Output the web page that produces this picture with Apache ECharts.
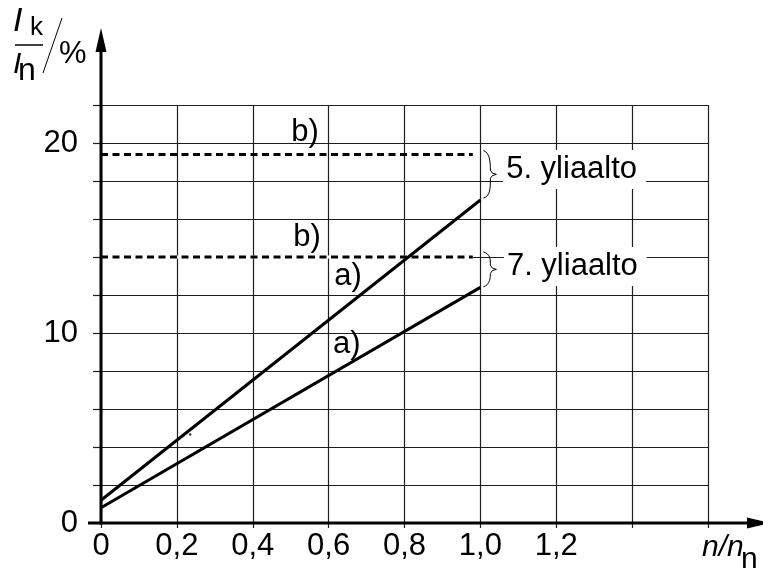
<!DOCTYPE html>
<html>
<head>
<meta charset="utf-8">
<script src="https://cdn.jsdelivr.net/npm/echarts@6/dist/echarts.min.js"></script>
<style>
  html, body { margin: 0; padding: 0; background: #fff; }
  #chart { width: 763px; height: 569px; }
</style>
</head>
<body>
<div id="chart"></div>
<script>
// Harmonic current I_k/I_n (%) against relative speed n/n_n

// tick labels
const speedTickLabels = [0, 0.2, 0.4, 0.6, 0.8, 1.0, 1.2];
const currentTickLabels = [0, 10, 20];

// a) curves: values at n/n_n = 0 and 1.0
const speedA = [0, 1.0];
const fifthA = [1.2, 17.0];
const seventhA = [0.8, 12.4];

// b) levels (constant)
const speedB = [0, 0.98];
const fifthB = [19.4, 19.4];
const seventhB = [14.0, 14.0];

// small speck on the sheet
const speck = [[0.235, 4.66]];

const FONT = '"Liberation Sans", Arial, Helvetica, sans-serif';
const FS = 31;
const INK = '#000';
const GRIDINK = '#1e1e1e';

const zip = (xs, ys) => xs.map((x, i) => [x, ys[i]]);
const near = (list, v) => list.some(t => Math.abs(t - v) < 1e-6);

const chart = echarts.init(document.getElementById('chart'), null, { renderer: 'canvas' });

const solid = (data) => ({
  type: 'line', data, symbol: 'none', silent: true, z: 5,
  lineStyle: { color: INK, width: 3 }
});
const dashed = (data) => ({
  type: 'line', data, symbol: 'none', silent: true, z: 6,
  lineStyle: { color: INK, width: 3, type: [7, 4.5] }
});

chart.setOption({
  animation: false,
  backgroundColor: '#fff',
  grid: { left: 101, right: 55, top: 105, bottom: 46, containLabel: false },
  xAxis: {
    type: 'value', min: 0, max: 1.6, interval: 0.2,
    axisLine: { show: false },
    axisTick: { show: true, length: 5, lineStyle: { color: GRIDINK, width: 1.2 } },
    splitLine: { show: true, lineStyle: { color: GRIDINK, width: 1.2 } },
    axisLabel: {
      margin: 8, color: INK, fontFamily: FONT, fontSize: FS,
      formatter: v => near(speedTickLabels, v) ? (v === 0 ? '0' : v.toFixed(1).replace('.', ',')) : ''
    }
  },
  yAxis: {
    type: 'value', min: 0, max: 22, interval: 2,
    axisLine: { show: false },
    axisTick: { show: true, length: 8, lineStyle: { color: GRIDINK, width: 1.2 } },
    splitLine: { show: true, lineStyle: { color: GRIDINK, width: 1.2 } },
    axisLabel: {
      margin: 23, color: INK, fontFamily: FONT, fontSize: FS,
      formatter: v => near(currentTickLabels, v) ? String(v) : ''
    }
  },
  series: [
    solid(zip(speedA, fifthA)),
    solid(zip(speedA, seventhA)),
    // clear the grid line under the lower dashed level
    { type: 'line', data: zip(speedB, seventhB), symbol: 'none', silent: true, z: 4,
      lineStyle: { color: '#fff', width: 3 } },
    dashed(zip(speedB, fifthB)),
    dashed(zip(speedB, seventhB)),
    { type: 'scatter', data: speck, symbolSize: 2.5, silent: true, z: 5,
      itemStyle: { color: INK } }
  ]
});

// ---- annotations drawn on top of the grid ----
const px = p => chart.convertToPixel({ gridIndex: 0 }, p);
const origin = px([0, 0]);
const g = [];

// axes with arrow heads
g.push({ type: 'line', z: 50, shape: { x1: origin[0], y1: origin[1] + 1.5, x2: origin[0], y2: 44 },
  style: { stroke: INK, lineWidth: 3 } });
g.push({ type: 'polygon', z: 50, shape: { points: [[origin[0], 28], [origin[0] - 5.5, 52], [origin[0] + 5.5, 52]] },
  style: { fill: INK } });
g.push({ type: 'line', z: 50, shape: { x1: 88, y1: origin[1], x2: 752, y2: origin[1] },
  style: { stroke: INK, lineWidth: 3 } });
g.push({ type: 'polygon', z: 50, shape: { points: [[771, origin[1]], [747, origin[1] - 5.5], [747, origin[1] + 5.5]] },
  style: { fill: INK } });

// a) / b) tags, centred at data positions
const tags = [
  { text: 'b)', at: [0.538, 20.57] },
  { text: 'b)', at: [0.543, 15.03] },
  { text: 'a)', at: [0.651, 12.98] },
  { text: 'a)', at: [0.648, 9.4] }
];
tags.forEach(t => {
  const p = px(t.at);
  g.push({ type: 'text', z: 60, x: p[0], y: p[1],
    style: { text: t.text, fontSize: FS, fontFamily: FONT, fill: INK, align: 'center', verticalAlign: 'middle' } });
});

// braces grouping each harmonic's pair of curves
function brace(yTopVal, yBotVal) {
  const top = px([1.0, yTopVal]), bot = px([1.0, yBotVal]);
  const xs = top[0] + 3, yT = top[1], yB = bot[1], mid = (yT + yB) / 2;
  const st = { fill: null, stroke: INK, lineWidth: 1 };
  g.push({ type: 'bezierCurve', z: 60, style: st,
    shape: { x1: xs, y1: yT, cpx1: xs + 7, cpy1: yT + 2, cpx2: xs + 7, cpy2: mid - 10, x2: xs + 7, y2: mid - 4 } });
  g.push({ type: 'bezierCurve', z: 60, style: st,
    shape: { x1: xs + 7, y1: mid - 4, cpx1: xs + 8, cpy1: mid - 0.5, x2: xs + 13, y2: mid } });
  g.push({ type: 'bezierCurve', z: 60, style: st,
    shape: { x1: xs + 13, y1: mid, cpx1: xs + 8, cpy1: mid + 0.5, x2: xs + 7, y2: mid + 4 } });
  g.push({ type: 'bezierCurve', z: 60, style: st,
    shape: { x1: xs + 7, y1: mid + 4, cpx1: xs + 7, cpy1: yB - 10, cpx2: xs + 7, cpy2: yB - 2, x2: xs, y2: yB } });
}
brace(fifthB[0] + 0.2, fifthA[1] + 0.1);
brace(seventhB[0] + 0.27, seventhA[1] + 0.03);

const harmonicTags = [
  { text: '5. yliaalto', at: [1.06, 18.6] },
  { text: '7. yliaalto', at: [1.062, 13.5] }
];
harmonicTags.forEach(t => {
  const p = px(t.at);
  g.push({ type: 'text', z: 55, x: p[0], y: p[1],
    style: { text: t.text, fontSize: FS, fontFamily: FONT, fill: INK, align: 'left', verticalAlign: 'middle',
      backgroundColor: '#fff', padding: [4, 9, 4, 3] } });
});

// y-axis title: I_k / I_n / %
const title = [
  { text: 'I', x: 13, y: 21.5, size: 34, italic: true },
  { text: 'k', x: 30, y: 28, size: 26, italic: false },
  { text: 'I', x: 13, y: 64.5, size: 30, italic: true },
  { text: 'n', x: 18, y: 71.5, size: 32, italic: false },
  { text: '%', x: 59, y: 54, size: 31, italic: false }
];
title.forEach(t => {
  g.push({ type: 'text', z: 60, x: t.x, y: t.y,
    style: { text: t.text, fontSize: t.size, fontFamily: FONT, fontStyle: t.italic ? 'italic' : 'normal',
      fill: INK, align: 'left', verticalAlign: 'middle' } });
});
g.push({ type: 'line', z: 60, shape: { x1: 15, y1: 45, x2: 43, y2: 45 }, style: { stroke: INK, lineWidth: 1.5 } });
g.push({ type: 'line', z: 60, shape: { x1: 43, y1: 73, x2: 62, y2: 18 }, style: { stroke: INK, lineWidth: 1 } });

// x-axis title: n/n_n
g.push({ type: 'text', z: 60, x: 702, y: 548,
  style: { text: 'n/n', fontSize: 30, fontFamily: FONT, fontStyle: 'italic', fill: INK, align: 'left', verticalAlign: 'middle' } });
g.push({ type: 'text', z: 60, x: 741, y: 560,
  style: { text: 'n', fontSize: 30, fontFamily: FONT, fill: INK, align: 'left', verticalAlign: 'middle' } });

chart.setOption({ graphic: { elements: g } });
</script>
</body>
</html>
